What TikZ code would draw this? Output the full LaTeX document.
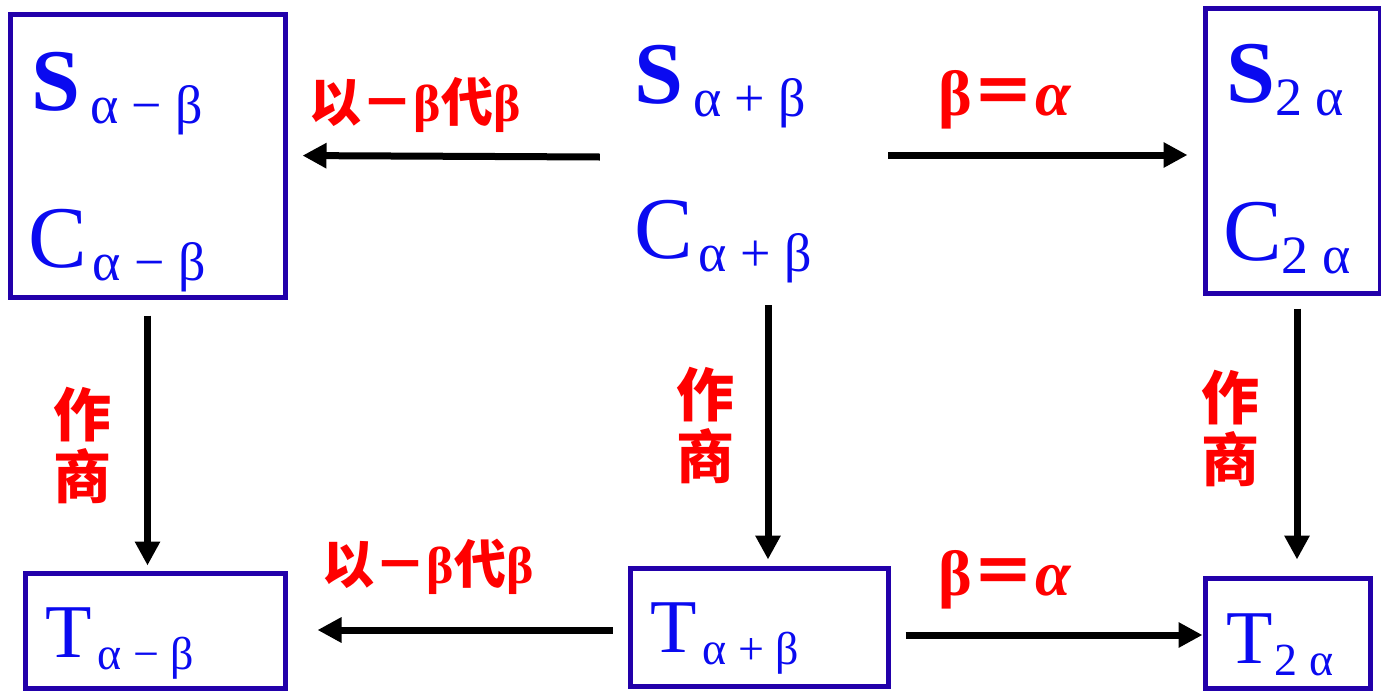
\documentclass[tikz,border=0pt]{standalone}
\usepackage{fontspec}
\setmainfont{Liberation Serif}
\newfontfamily\cjk{Noto Sans CJK SC}
\usetikzlibrary{arrows.meta}

\definecolor{boxblue}{RGB}{34,0,170}
\definecolor{txtblue}{RGB}{10,10,240}
\definecolor{lblred}{RGB}{255,0,0}

% lettertypen
\newcommand{\bigfont}{\fontsize{88}{88}\selectfont}
\newcommand{\tfont}{\fontsize{76}{76}\selectfont}
\newcommand{\subA}[1]{\raisebox{-13pt}{\fontsize{54}{54}\selectfont #1}}
\newcommand{\subT}[1]{\raisebox{-12pt}{\fontsize{46}{46}\selectfont #1}}
\newcommand{\cjkfont}{\cjk\bfseries\fontsize{52}{52}\selectfont}
\newcommand{\eqfont}{\bfseries\fontsize{64}{64}\selectfont}
\newcommand{\vertfont}{\cjk\bfseries\fontsize{58}{62}\selectfont}

\begin{document}
\begin{tikzpicture}[x=1pt,y=-1pt,
    box/.style={draw=boxblue,line width=5pt,inner sep=0pt},
    term/.style={anchor=base west,inner sep=0pt,text=txtblue},
    lbl/.style={text=lblred,inner sep=0pt},
    vlbl/.style={lbl,align=center,font=\vertfont},
    conn/.style={line width=7pt,-{Triangle[length=24pt,width=24pt]}}]

    \useasboundingbox (0,0) rectangle (1381,691);

    % kaders
    \node[box,minimum width=275,minimum height=283] (A) at (147.5,155.5) {};
    \node[box,minimum width=175,minimum height=285] (B) at (1292.5,150.5) {};
    \node[box,minimum width=260,minimum height=115] (C) at (155,630.5) {};
    \node[box,minimum width=258,minimum height=118] (D) at (759,627) {};
    \node[box,minimum width=165,minimum height=110] (E) at (1287.5,633) {};
    % middengroep zonder kader
    \node[inner sep=0pt,minimum width=288,minimum height=296] (M) at (744,157) {};

    % termen
    \node[term] (sAmb) at (31,110) {\bigfont\bfseries S\hspace{10pt}\mdseries\subA{α − β}};
    \node[term] (cAmb) at (28,267) {\bigfont C\hspace{6pt}\subA{α − β}};
    \node[term] (sApb) at (634,103) {\bigfont\bfseries S\hspace{10pt}\mdseries\subA{α + β}};
    \node[term] (cApb) at (634,258) {\bigfont C\hspace{6pt}\subA{α + β}};
    \node[term] (s2a) at (1226,102) {\bigfont\bfseries S\mdseries\subA{2 α}};
    \node[term] (c2a) at (1223,260) {\bigfont C\subA{2 α}};
    \node[term] (tAmb) at (45,657) {\tfont T\hspace{6pt}\subT{α − β}};
    \node[term] (tApb) at (650,652) {\tfont T\hspace{6pt}\subT{α + β}};
    \node[term] (t2a) at (1226,663) {\tfont T\hspace{2pt}\subT{2 α}};

    % pijlen
    \draw[conn,shorten >=15pt] (M.west) -- (A.east);
    \draw[conn,shorten >=15pt] ([yshift=2pt]M.east) -- ([yshift=2pt]M.east -| B.west);
    \draw[conn,shorten <=16pt,shorten >=5pt] (A.south) -- (A.south |- C.north);
    \draw[conn,shorten >=6pt] ([xshift=24pt]M.south) -- ([xshift=24pt]M.south |- D.north);
    \draw[conn,shorten <=13pt,shorten >=16pt] ([xshift=4.5pt]B.south) -- ([xshift=4.5pt]B.south |- E.north);
    \draw[conn,shorten <=15pt,shorten >=30pt] ([yshift=-3pt]D.west) -- ([yshift=-3pt]D.west -| C.east);
    \draw[conn,shorten <=15pt] ([yshift=-8pt]D.east) -- ([yshift=-8pt]D.east -| E.west);

    % opschriften
    \node[lbl] (l1) at (415,105) {\cjkfont 以－{\rmfamily β}代{\rmfamily β}};
    \node[lbl] (l2) at (1005,100) {\eqfont β{\cjk ＝}\textit{α}};
    \node[lbl] (l3) at (428,567) {\cjkfont 以－{\rmfamily β}代{\rmfamily β}};
    \node[lbl] (l4) at (1005,580) {\eqfont β{\cjk ＝}\textit{α}};
    \node[vlbl] (q1) at (82,445) {作\\商};
    \node[vlbl] (q2) at (705,425) {作\\商};
    \node[vlbl] (q3) at (1230,428) {作\\商};
\end{tikzpicture}
\end{document}
